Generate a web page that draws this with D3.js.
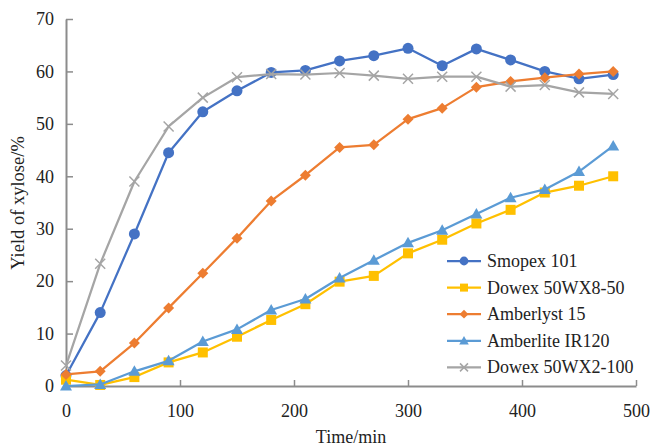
<!DOCTYPE html>
<html><head><meta charset="utf-8">
<script src="https://cdn.jsdelivr.net/npm/d3@7"></script>
<style>body{margin:0;background:#fff}svg{display:block}text{font-family:"Liberation Serif","Times New Roman",serif;fill:#222}</style>
</head><body><svg id="c" width="651" height="446"></svg>
<script>
const times = [0,30,60,90,120,150,180,210,240,270,300,330,360,390,420,450,480];
const smopex101 = [2.0,14.0,29.0,44.5,52.3,56.3,59.8,60.2,62.0,63.0,64.4,61.1,64.3,62.2,60.0,58.6,59.4];
const dowex50WX8 = [1.2,0.2,1.7,4.5,6.4,9.4,12.6,15.6,19.9,21.0,25.3,27.9,31.0,33.6,36.9,38.2,40.0];
const amberlyst15 = [2.2,2.8,8.2,14.9,21.5,28.2,35.3,40.2,45.5,46.0,50.9,53.0,57.0,58.1,58.8,59.5,60.0];
const amberliteIR120 = [0.0,0.3,2.8,4.8,8.5,10.8,14.5,16.6,20.6,24.0,27.3,29.7,32.8,35.9,37.5,40.9,45.8];
const dowex50WX2 = [3.9,23.3,39.0,49.5,55.0,58.9,59.5,59.4,59.7,59.2,58.6,59.0,59.0,57.1,57.4,56.0,55.7];
const xTicks = [0,100,200,300,400,500];
const yTicks = [0,10,20,30,40,50,60,70];
const seriesNames = ["Smopex 101","Dowex 50WX8-50","Amberlyst 15","Amberlite IR120","Dowex 50WX2-100"];
const seriesColors = ["#4472C4","#FFC000","#ED7D31","#5B9BD5","#A5A5A5"];
const seriesMarkers = ["circle","square","diamond","triangle","cross"];
const seriesValues = [smopex101,dowex50WX8,amberlyst15,amberliteIR120,dowex50WX2];

const svg = d3.select("#c");
const x = d3.scaleLinear().domain([0,500]).range([66,636]);
const y = d3.scaleLinear().domain([0,70]).range([386,19]);
const axisColor = "#8c8c8c";

const xa = svg.append("g").attr("transform","translate(0,386)")
  .call(d3.axisBottom(x).tickValues(xTicks).tickSizeInner(-6).tickSizeOuter(0).tickPadding(18));
const ya = svg.append("g").attr("transform","translate(66,0)")
  .call(d3.axisLeft(y).tickValues(yTicks).tickSizeInner(-7).tickSizeOuter(0).tickPadding(12));
[xa,ya].forEach(a=>{
  a.select(".domain").attr("stroke",axisColor).attr("stroke-width",2);
  a.selectAll(".tick line").attr("stroke",axisColor).attr("stroke-width",1.5);
  a.selectAll(".tick text").style("font-size","18px").attr("fill","#222");
});
xa.selectAll(".tick").filter(d=>d===0).select("line").remove();
ya.selectAll(".tick").filter(d=>d===0).select("line").remove();

svg.append("text").attr("x",351).attr("y",443).attr("text-anchor","middle").style("font-size","18px").text("Time/min");
svg.append("text").attr("transform","translate(24,203) rotate(-90)").attr("text-anchor","middle").style("font-size","18.5px").text("Yield of xylose/%");

function marker(g, type, color, s){
  if(type==="circle") g.append("circle").attr("r",s*0.55).attr("fill",color);
  else if(type==="square") g.append("rect").attr("x",-s/2).attr("y",-s/2).attr("width",s).attr("height",s).attr("fill",color);
  else if(type==="diamond") g.append("path").attr("d",`M0,${-s*0.55}L${s*0.55},0L0,${s*0.55}L${-s*0.55},0Z`).attr("fill",color);
  else if(type==="triangle") g.append("path").attr("d",`M0,${-s*0.6}L${s*0.6},${s*0.45}L${-s*0.6},${s*0.45}Z`).attr("fill",color);
  else if(type==="cross") g.append("path").attr("d",`M${-s*0.5},${-s*0.5}L${s*0.5},${s*0.5}M${-s*0.5},${s*0.5}L${s*0.5},${-s*0.5}`).attr("stroke",color).attr("stroke-width",1.5).attr("fill","none");
}

const line = d3.line().x((d,i)=>x(times[i])).y(d=>y(d));
seriesValues.forEach((vals,k)=>{
  const g = svg.append("g");
  g.append("path").datum(vals).attr("d",line).attr("fill","none").attr("stroke",seriesColors[k]).attr("stroke-width",2.25).attr("stroke-linejoin","round");
  vals.forEach((v,i)=>{
    const m = g.append("g").attr("transform",`translate(${x(times[i])},${y(v)})`);
    marker(m, seriesMarkers[k], seriesColors[k], 10);
  });
});

const leg = svg.append("g");
seriesNames.forEach((n,k)=>{
  const yy = 261 + k*26.6;
  leg.append("line").attr("x1",447).attr("x2",481).attr("y1",yy).attr("y2",yy).attr("stroke",seriesColors[k]).attr("stroke-width",2.25);
  const m = leg.append("g").attr("transform",`translate(464,${yy})`);
  marker(m, seriesMarkers[k], seriesColors[k], 8);
  leg.append("text").attr("x",487).attr("y",yy+6).style("font-size","18px").text(n);
});
</script></body></html>
